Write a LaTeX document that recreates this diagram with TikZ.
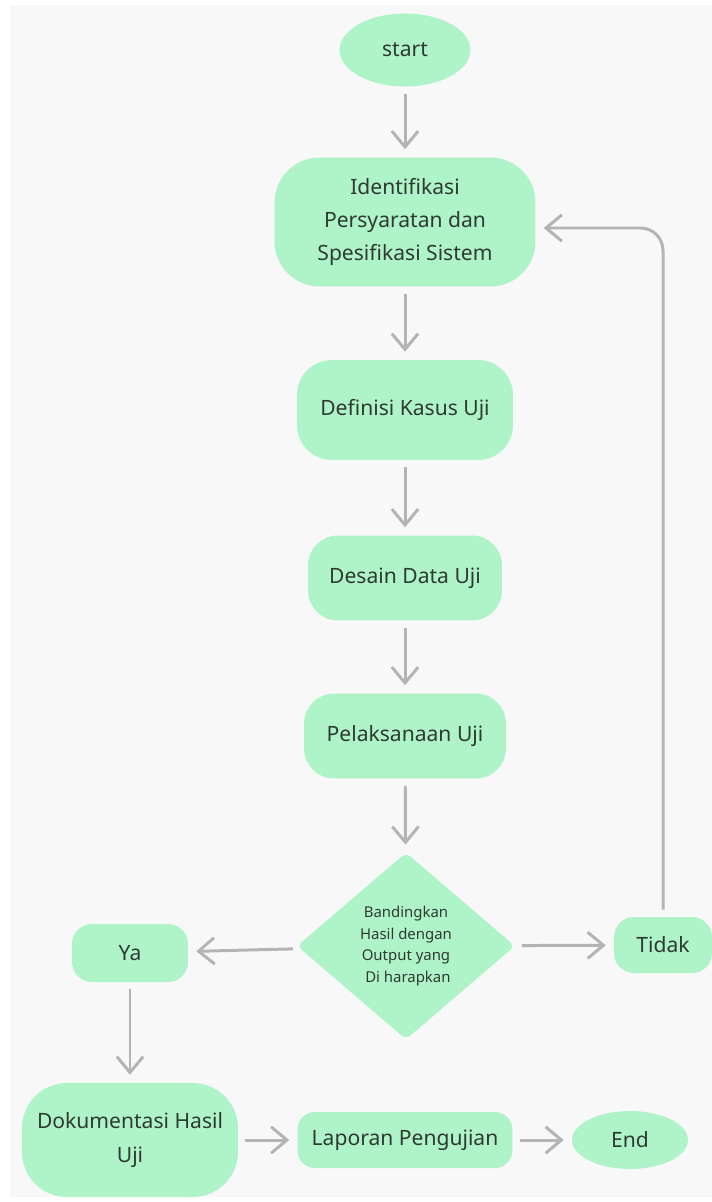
\documentclass[tikz,border=0pt]{standalone}
\usepackage{fontspec}
\setmainfont{Noto Sans}
\usetikzlibrary{shapes.geometric,arrows.meta}

\definecolor{mint}{HTML}{AFF4C8}
\definecolor{wire}{HTML}{B4B4B4}
\definecolor{ink}{HTML}{2F3A33}
\definecolor{paper}{HTML}{F8F8F8}

\begin{document}
\begin{tikzpicture}[x=0.02cm, y=-0.02cm,
  box/.style={fill=mint, draw=none, text=ink, align=center, inner sep=0pt, font=\fontsize{12}{19}\selectfont},
  oval/.style={box, ellipse},
  decide/.style={box, diamond, rounded corners=3pt, font=\fontsize{8.5}{12.3}\selectfont},
  arr/.style={draw=wire, line width=1.7pt, -{Straight Barb[length=9pt, width=15pt]}, shorten >=4.5pt, shorten <=4pt}]
  % page
  \useasboundingbox (0,0) rectangle (712,1202);
  \fill[paper] (10,5) rectangle (712,1197);

  \node[oval, minimum width=2.62cm, minimum height=1.46cm] (start) at (405,50) {start};
  \node[box, rounded corners=0.9cm, minimum width=5.22cm, minimum height=2.58cm] (ident) at (405,222)
    {Identifikasi\\Persyaratan dan\\Spesifikasi Sistem};
  \node[box, rounded corners=0.7cm, minimum width=4.32cm, minimum height=2cm] (kasus) at (405,410) {Definisi Kasus Uji};
  \node[box, rounded corners=0.6cm, minimum width=3.88cm, minimum height=1.7cm] (desain) at (405,578) {Desain Data Uji};
  \node[box, rounded corners=0.6cm, minimum width=4.04cm, minimum height=1.7cm] (laksana) at (405,736) {Pelaksanaan Uji};

  \node[decide, minimum width=4.36cm, minimum height=3.74cm] (banding) at (406,946)
    {Bandingkan\\Hasil dengan\\Output yang\\\ Di harapkan};

  \node[box, rounded corners=0.4cm, minimum width=2.32cm, minimum height=1.16cm] (ya) at (130,953) {Ya};
  \node[box, rounded corners=0.4cm, minimum width=1.96cm, minimum height=1.12cm] (tidak) at (663,945) {Tidak};

  \node[box, rounded corners=0.9cm, minimum width=4.32cm, minimum height=2.28cm] (dok) at (130,1140)
    {Dokumentasi Hasil\\Uji};
  \node[box, rounded corners=0.35cm, minimum width=4.3cm, minimum height=1.12cm] (lapor) at (405,1140) {Laporan Pengujian};
  \node[oval, minimum width=2.32cm, minimum height=1.16cm] (end) at (630,1140) {End};

  % main flow
  \draw[arr] (start) -- (ident);
  \draw[arr] (ident) -- (kasus);
  \draw[arr] (kasus) -- (desain);
  \draw[arr] (desain) -- (laksana);
  \draw[arr] (laksana) -- (banding);

  % decision
  \draw[arr] (banding) -- (ya);
  \draw[arr] (banding) -- (tidak);
  \draw[arr, rounded corners=0.45cm] (tidak.north) |- ([yshift=-0.12cm]ident.east);

  \draw[arr] (ya) -- (dok);
  \draw[arr] (dok) -- (lapor);
  \draw[arr] (lapor) -- (end);
\end{tikzpicture}
\end{document}
